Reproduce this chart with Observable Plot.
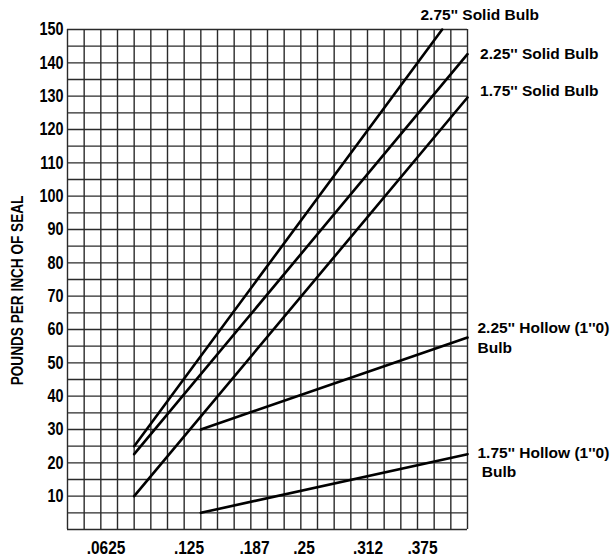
<!DOCTYPE html>
<html>
<head>
<meta charset="utf-8">
<script src="https://cdn.jsdelivr.net/npm/d3@7"></script>
<script src="https://cdn.jsdelivr.net/npm/@observablehq/plot@0.6"></script>
<style>
  html, body { margin: 0; padding: 0; background: #fff; }
  #chart { width: 613px; height: 558px; }
</style>
</head>
<body>
<div id="chart"></div>
<script>
// ---- Data (x in chart grid columns, y in pounds per inch of seal) ----
const seriesNames = [
  "2.75'' Solid Bulb",
  "2.25'' Solid Bulb",
  "1.75'' Solid Bulb",
  "2.25'' Hollow (1''0)\nBulb",
  "1.75'' Hollow (1''0)\n\u00a0Bulb"
];
const solid275X = [4, 22.48];
const solid275Y = [25, 150];
const solid225X = [4, 24];
const solid225Y = [22.6, 142.6];
const solid175X = [4, 24];
const solid175Y = [10, 129.6];
const hollow225X = [8, 24];
const hollow225Y = [30, 57.6];
const hollow175X = [8, 24];
const hollow175Y = [5, 22.6];

const xTickPos = [2.31, 7.29, 11.22, 14.19, 18.03, 21.3];
const xTickLabels = [".0625", ".125", ".187", ".25", ".312", ".375"];
const yTicks = [10, 20, 30, 40, 50, 60, 70, 80, 90, 100, 110, 120, 130, 140, 150];
const yTitle = "POUNDS PER INCH OF SEAL";

// ---- Build table ----
const seriesXY = [
  [solid275X, solid275Y],
  [solid225X, solid225Y],
  [solid175X, solid175Y],
  [hollow225X, hollow225Y],
  [hollow175X, hollow175Y]
];
const rows = [];
seriesXY.forEach(([xs, ys], k) => {
  xs.forEach((x, i) => rows.push({series: seriesNames[k], x, y: ys[i]}));
});
const lastOf = name => rows.filter(r => r.series === name).slice(-1);
const labelByPos = new Map(xTickPos.map((p, i) => [p, xTickLabels[i]]));
const gridCols = d3.range(0, 25);
const gridRows = d3.range(0, 151, 5);

const labelStyle = {x: "x", y: "y", text: "series", textAnchor: "start", fontSize: 15.5,
  fontWeight: "bold", fill: "#000", ariaDescription: "series label", clip: false};

const chart = Plot.plot({
  width: 613,
  height: 558,
  marginLeft: 67,
  marginRight: 146,
  marginTop: 29,
  marginBottom: 29,
  style: {fontFamily: "'Liberation Sans', Arial, sans-serif", fontWeight: "bold", fontSize: "18px", color: "#000", background: "#fff"},
  x: {domain: [0, 24], ticks: xTickPos, tickFormat: d => labelByPos.get(d), tickSize: 0, tickPadding: 12, label: null},
  y: {domain: [0, 150], ticks: yTicks, tickSize: 0, tickPadding: 4, label: null},
  marks: [
    Plot.ruleX(gridCols, {stroke: "#2a2a2a", strokeWidth: 1.4}),
    Plot.ruleY(gridRows, {stroke: "#2a2a2a", strokeWidth: 1.4}),
    Plot.line(rows, {x: "x", y: "y", z: "series", stroke: "#000", strokeWidth: 2.6}),
    Plot.text(lastOf(seriesNames[0]), {...labelStyle, dx: -21.7, dy: -14}),
    Plot.text(lastOf(seriesNames[1]), {...labelStyle, dx: 12.6, dy: -0.6}),
    Plot.text(lastOf(seriesNames[2]), {...labelStyle, dx: 12.6, dy: -6}),
    Plot.text(lastOf(seriesNames[3]), {...labelStyle, dx: 10, dy: -1, lineHeight: 1.29}),
    Plot.text(lastOf(seriesNames[4]), {...labelStyle, dx: 10, dy: 7.5, lineHeight: 1.18}),
    Plot.text([yTitle], {text: d => d, frameAnchor: "left", textAnchor: "middle", rotate: -90, dx: -50, dy: 11,
      fontSize: 17, fontWeight: "bold", fill: "#000", ariaDescription: "y title"})
  ]
});

document.getElementById("chart").appendChild(chart);

// condense axis texts (narrow bold face look) without moving their anchors
chart.querySelectorAll("text").forEach(el => {
  if (el.closest('[aria-description="series label"]')) return;
  const s = el.closest('[aria-label="x-axis tick label"]') ? 0.86 : 0.8;
  const parts = el.querySelectorAll("tspan").length ? el.querySelectorAll("tspan") : [el];
  parts.forEach(p => {
    const len = p.getComputedTextLength();
    if (len > 0) {
      p.setAttribute("textLength", (len * s).toFixed(2));
      p.setAttribute("lengthAdjust", "spacingAndGlyphs");
    }
  });
});
</script>
</body>
</html>
